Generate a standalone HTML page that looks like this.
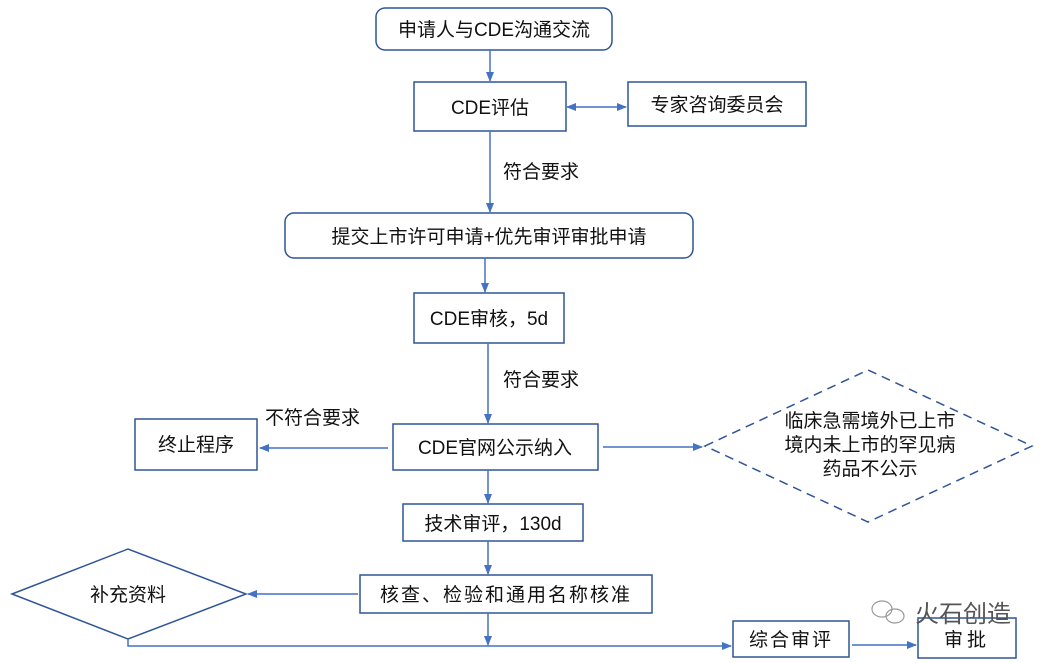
<!DOCTYPE html>
<html><head><meta charset="utf-8"><style>
html,body{margin:0;padding:0;background:#fff;}
svg{display:block;}
text{font-family:"Liberation Sans","Noto Sans CJK SC",sans-serif;font-size:19px;fill:#111;}
</style></head><body>
<svg width="1052" height="663" viewBox="0 0 1052 663" xmlns="http://www.w3.org/2000/svg">
<defs>
<marker id="a" markerWidth="10" markerHeight="8" refX="9" refY="4" orient="auto" markerUnits="userSpaceOnUse">
<path d="M0,0 L10,4 L0,8 z" fill="#4472c4"/></marker>
<marker id="b" markerWidth="10" markerHeight="8" refX="1" refY="4" orient="auto" markerUnits="userSpaceOnUse">
<path d="M10,0 L0,4 L10,8 z" fill="#4472c4"/></marker>
</defs>
<g fill="none" stroke="#2f5597" stroke-width="1.5">
<rect x="376" y="8" width="236" height="42" rx="9"/>
<rect x="414" y="82" width="152" height="49"/>
<rect x="628" y="82" width="178" height="44"/>
<rect x="285" y="213" width="408" height="45" rx="9"/>
<rect x="414" y="293" width="150" height="50"/>
<rect x="393" y="424" width="205" height="46"/>
<rect x="135" y="419" width="122" height="51"/>
<polygon points="705,446 868,370 1032,446 868,522" stroke-dasharray="9,6"/>
<rect x="403" y="504" width="180" height="37"/>
<rect x="360" y="575" width="292" height="38"/>
<polygon points="12,594 128,549 246,594 128,639"/>
<rect x="733" y="621" width="116" height="36"/>
<rect x="918" y="618" width="98" height="40"/>
</g>
<g stroke="#4472c4" stroke-width="1.5" fill="none">
<line x1="490" y1="50" x2="490" y2="81" marker-end="url(#a)"/>
<line x1="567" y1="107" x2="626" y2="107" marker-start="url(#b)" marker-end="url(#a)"/>
<line x1="490" y1="131" x2="490" y2="212" marker-end="url(#a)"/>
<line x1="485" y1="258" x2="485" y2="292" marker-end="url(#a)"/>
<line x1="488" y1="343" x2="488" y2="423" marker-end="url(#a)"/>
<line x1="388" y1="448" x2="260" y2="448" marker-end="url(#a)"/>
<line x1="603" y1="447" x2="702" y2="447" marker-end="url(#a)"/>
<line x1="488" y1="470" x2="488" y2="503" marker-end="url(#a)"/>
<line x1="488" y1="541" x2="488" y2="574" marker-end="url(#a)"/>
<line x1="358" y1="594" x2="248" y2="594" marker-end="url(#a)"/>
<line x1="488" y1="613" x2="488" y2="645" marker-end="url(#a)"/>
<polyline points="128,639 128,646 731,646" marker-end="url(#a)"/>
<line x1="852" y1="645" x2="916" y2="645" marker-end="url(#a)"/>
</g>
<text x="494" y="36" text-anchor="middle">申请人与CDE沟通交流</text>
<text x="490" y="114" text-anchor="middle">CDE评估</text>
<text x="717" y="111" text-anchor="middle">专家咨询委员会</text>
<text x="503" y="178">符合要求</text>
<text x="489" y="243" text-anchor="middle">提交上市许可申请+优先审评审批申请</text>
<text x="489" y="325" text-anchor="middle">CDE审核，5d</text>
<text x="503" y="386">符合要求</text>
<text x="265" y="424">不符合要求</text>
<text x="196" y="451" text-anchor="middle">终止程序</text>
<text x="495" y="454" text-anchor="middle">CDE官网公示纳入</text>
<text x="870" y="427" text-anchor="middle">临床急需境外已上市</text>
<text x="870" y="451" text-anchor="middle">境内未上市的罕见病</text>
<text x="870" y="475" text-anchor="middle">药品不公示</text>
<text x="493" y="530" text-anchor="middle">技术审评，130d</text>
<text x="506" y="601" text-anchor="middle" letter-spacing="2">核查、检验和通用名称核准</text>
<text x="128" y="601" text-anchor="middle">补充资料</text>
<text x="791" y="646" text-anchor="middle" letter-spacing="2">综合审评</text>
<text x="967" y="646" text-anchor="middle" letter-spacing="4">审批</text>
<g fill="none" stroke="#999" stroke-width="1.2">
<ellipse cx="882" cy="609" rx="10" ry="8"/>
<ellipse cx="895" cy="616" rx="9" ry="7"/>
</g>
<text x="915" y="622" style="font-size:24px;fill:#555">火石创造</text>
</svg>
</body></html>
